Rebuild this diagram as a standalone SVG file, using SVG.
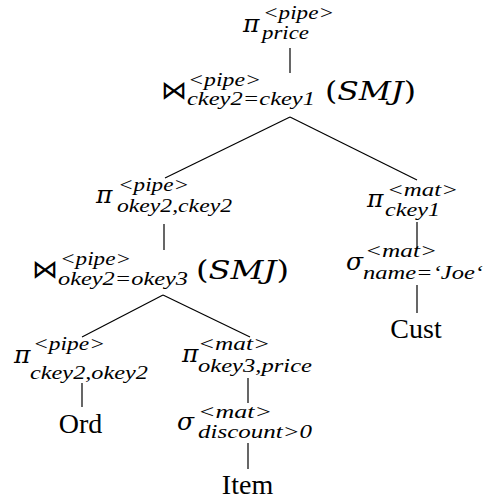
<svg xmlns="http://www.w3.org/2000/svg" width="485" height="499" viewBox="0 0 485 499">
  <style>
    text { fill: #000; }
    .op { font-family: "DejaVu Serif", "Liberation Serif", serif; font-style: italic; font-size: 25px; }
    .bt { font-family: "DejaVu Serif", "Liberation Serif", serif; font-size: 26px; }
    .sc { font-family: "Liberation Serif", serif; font-style: italic; font-size: 19px; }
    .alg { font-family: "DejaVu Serif", "Liberation Serif", serif; font-size: 26px; }
    .alg tspan.i { font-style: italic; }
    .rel { font-family: "Liberation Serif", serif; font-size: 28px; }
    .edge { stroke: #000; stroke-width: 1.2; fill: none; }
  </style>

  <!-- tree edges -->
  <g id="connectors">
    <line class="edge" x1="290" y1="48" x2="290" y2="73"/>
    <line class="edge" x1="290" y1="117" x2="165" y2="178"/>
    <line class="edge" x1="290" y1="117" x2="417" y2="180"/>
    <line class="edge" x1="164" y1="224" x2="164" y2="250"/>
    <line class="edge" x1="163" y1="295" x2="82" y2="337"/>
    <line class="edge" x1="163" y1="295" x2="250" y2="337"/>
    <line class="edge" x1="82" y1="383" x2="82" y2="407"/>
    <line class="edge" x1="248" y1="378" x2="248" y2="403"/>
    <line class="edge" x1="248" y1="443" x2="248" y2="469"/>
    <line class="edge" x1="417" y1="222" x2="417" y2="248"/>
    <line class="edge" x1="417" y1="285" x2="417" y2="313"/>
  </g>

  <!-- root projection -->
  <g id="proj-price">
    <text class="op" x="243" y="32">π</text>
    <text class="sc" x="263" y="19" textLength="71" lengthAdjust="spacingAndGlyphs">&lt;pipe&gt;</text>
    <text class="sc" x="262" y="39" textLength="47" lengthAdjust="spacingAndGlyphs">price</text>
  </g>

  <!-- top join -->
  <g id="join-ckey">
    <text class="bt" x="161" y="99">⋈</text>
    <text class="sc" x="188" y="86" textLength="73" lengthAdjust="spacingAndGlyphs">&lt;pipe&gt;</text>
    <text class="sc" x="187" y="105" textLength="128" lengthAdjust="spacingAndGlyphs">ckey2=ckey1</text>
    <text class="alg" x="325" y="100" textLength="91" lengthAdjust="spacingAndGlyphs">(<tspan class="i">SMJ</tspan>)</text>
  </g>

  <!-- left projection -->
  <g id="proj-okey2-ckey2">
    <text class="op" x="96" y="203">π</text>
    <text class="sc" x="118" y="191" textLength="71" lengthAdjust="spacingAndGlyphs">&lt;pipe&gt;</text>
    <text class="sc" x="117" y="212" textLength="115" lengthAdjust="spacingAndGlyphs">okey2,ckey2</text>
  </g>

  <!-- lower join -->
  <g id="join-okey">
    <text class="bt" x="32" y="278">⋈</text>
    <text class="sc" x="60" y="265" textLength="71" lengthAdjust="spacingAndGlyphs">&lt;pipe&gt;</text>
    <text class="sc" x="58" y="285" textLength="130" lengthAdjust="spacingAndGlyphs">okey2=okey3</text>
    <text class="alg" x="196" y="279" textLength="93" lengthAdjust="spacingAndGlyphs">(<tspan class="i">SMJ</tspan>)</text>
  </g>

  <!-- projection over Ord -->
  <g id="proj-ckey2-okey2">
    <text class="op" x="14" y="363">π</text>
    <text class="sc" x="33" y="350" textLength="72" lengthAdjust="spacingAndGlyphs">&lt;pipe&gt;</text>
    <text class="sc" x="30" y="379" textLength="118" lengthAdjust="spacingAndGlyphs">ckey2,okey2</text>
  </g>

  <g id="rel-ord">
    <text class="rel" x="80.5" y="433" text-anchor="middle">Ord</text>
  </g>

  <!-- projection over selection on Item -->
  <g id="proj-okey3-price">
    <text class="op" x="182" y="362">π</text>
    <text class="sc" x="198" y="350" textLength="72" lengthAdjust="spacingAndGlyphs">&lt;mat&gt;</text>
    <text class="sc" x="198" y="372" textLength="114" lengthAdjust="spacingAndGlyphs">okey3,price</text>
  </g>

  <g id="sel-discount">
    <text class="op" x="177" y="430">σ</text>
    <text class="sc" x="198" y="418" textLength="74" lengthAdjust="spacingAndGlyphs">&lt;mat&gt;</text>
    <text class="sc" x="198" y="438" textLength="114" lengthAdjust="spacingAndGlyphs">discount&gt;0</text>
  </g>

  <g id="rel-item">
    <text class="rel" x="247.5" y="494" text-anchor="middle">Item</text>
  </g>

  <!-- right branch -->
  <g id="proj-ckey1">
    <text class="op" x="367" y="207">π</text>
    <text class="sc" x="387" y="196" textLength="71" lengthAdjust="spacingAndGlyphs">&lt;mat&gt;</text>
    <text class="sc" x="385" y="216" textLength="55" lengthAdjust="spacingAndGlyphs">ckey1</text>
  </g>

  <g id="sel-name">
    <text class="op" x="346" y="270">σ</text>
    <text class="sc" x="365" y="257" textLength="72" lengthAdjust="spacingAndGlyphs">&lt;mat&gt;</text>
    <text class="sc" x="363" y="279" textLength="120" lengthAdjust="spacingAndGlyphs">name=‘Joe‘</text>
  </g>

  <g id="rel-cust">
    <text class="rel" x="416" y="338" text-anchor="middle">Cust</text>
  </g>
</svg>
